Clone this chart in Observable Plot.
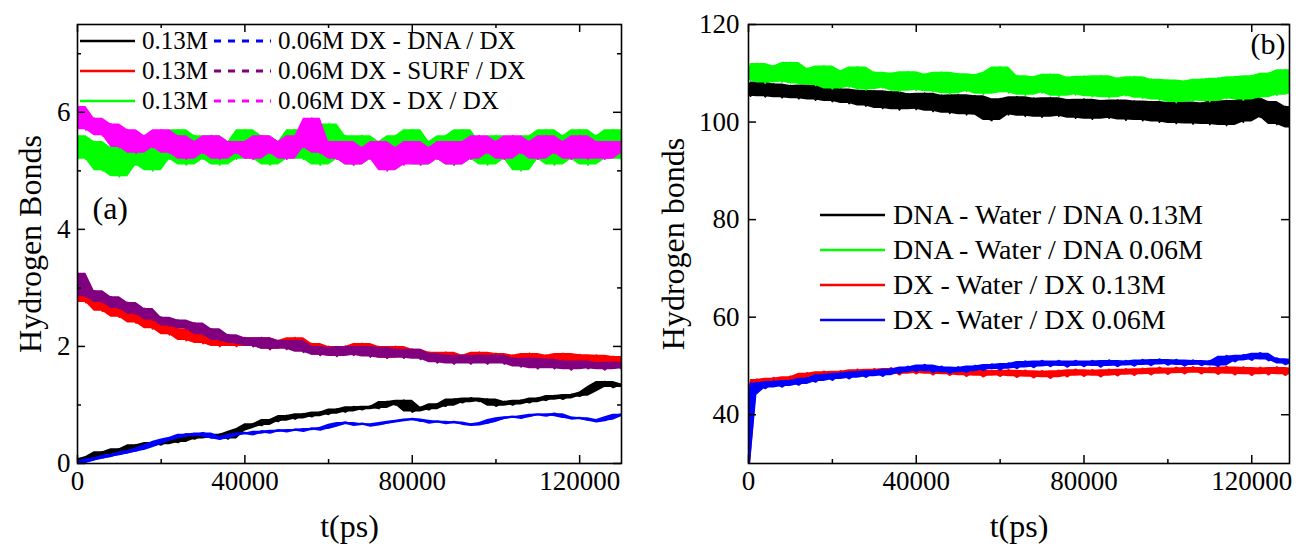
<!DOCTYPE html>
<html><head><meta charset="utf-8">
<script src="https://cdn.jsdelivr.net/npm/d3@7"></script>
<script src="https://cdn.jsdelivr.net/npm/@observablehq/plot@0.6"></script>
<style>
body{margin:0;background:#fff;}
#wrap{position:relative;width:1296px;height:548px;font-family:'Liberation Serif','Times New Roman',Times,'DejaVu Serif',serif;overflow:hidden}
#wrap > svg{position:absolute;top:0;}
#wrap text{font-family:'Liberation Serif','Times New Roman',Times,'DejaVu Serif',serif;}
.leg{position:absolute;white-space:nowrap;color:#000;display:flex;align-items:center}
.leg svg{display:block}
</style></head><body><div id="wrap"></div>
<script>
// ---------- DATA ----------
// time in thousands of ps (panel a)
const tA = [0,2,4,6,8,10,12,14,16,18,20,22,24,26,28,30,32,34,36,38,40,42,44,46,48,50,52,54,56,58,60,62,64,66,68,70,72,74,76,78,80,82,84,86,88,90,92,94,96,98,100,102,104,106,108,110,112,114,116,118,120,122,124,126,128,130];
// panel (a) series
const dxDna013 = [0.0,0.08,0.12,0.2,0.17,0.25,0.22,0.32,0.28,0.36, 0.32,0.4,0.36,0.45,0.42,0.5,0.44,0.5,0.42,0.55, 0.6,0.68,0.65,0.75,0.72,0.82,0.76,0.85,0.8,0.88, 0.84,0.93,0.88,0.97,0.92,0.98,0.94,1.06,1.0,1.08, 0.88,0.96,0.92,1.02,0.98,1.1,1.04,1.12,1.06,1.1, 0.98,1.06,1.0,1.08,1.04,1.12,1.08,1.16,1.1,1.18, 1.15,1.22,1.32,1.4,1.3,1.36];
const dxDna006 = [0.0,0.04,0.08,0.1,0.14,0.16,0.2,0.22,0.27,0.32, 0.38,0.42,0.45,0.5,0.48,0.52,0.45,0.42,0.46,0.5, 0.52,0.5,0.55,0.53,0.57,0.55,0.58,0.56,0.6,0.58, 0.62,0.67,0.7,0.66,0.68,0.65,0.67,0.7,0.72,0.74, 0.76,0.74,0.7,0.72,0.69,0.71,0.68,0.66,0.67,0.7, 0.75,0.78,0.8,0.78,0.82,0.84,0.82,0.85,0.8,0.77, 0.78,0.75,0.72,0.74,0.8,0.84];
const dxSurf013 = [3.0,2.75,2.8,2.6,2.7,2.5,2.6,2.4,2.5,2.3, 2.4,2.2,2.3,2.1,2.25,2.05,2.2,2.0,2.15,2.0, 2.15,2.0,2.15,1.95,2.1,2.0,2.15,1.95,2.05,1.85, 2.0,1.85,2.0,1.85,2.05,1.85,2.0,1.8,2.0,1.85, 1.95,1.8,1.9,1.75,1.9,1.75,1.85,1.72,1.9,1.75, 1.88,1.72,1.85,1.75,1.88,1.72,1.85,1.72,1.88,1.7, 1.86,1.72,1.85,1.7,1.83,1.72];
const dxSurf006 = [3.25,2.85,2.95,2.75,2.85,2.65,2.75,2.55,2.65,2.45, 2.5,2.35,2.45,2.3,2.4,2.2,2.3,2.1,2.2,2.05, 2.15,2.0,2.15,1.95,2.1,1.95,2.1,1.9,2.0,1.85, 1.98,1.83,2.0,1.85,2.0,1.82,1.98,1.8,1.95,1.8, 1.95,1.78,1.88,1.72,1.85,1.7,1.85,1.7,1.85,1.7, 1.85,1.7,1.8,1.65,1.8,1.62,1.78,1.62,1.75,1.6, 1.75,1.62,1.72,1.6,1.73,1.62];
const dxDx013 = [5.6,5.2,5.5,5.0,5.4,4.9,5.5,5.1,5.6,5.0, 5.5,5.2,5.7,5.1,5.6,5.2,5.6,5.1,5.5,5.2, 5.7,5.2,5.6,5.1,5.5,5.2,5.7,5.2,5.6,5.1, 5.8,5.2,5.6,5.1,5.6,5.2,5.5,5.1,5.6,5.2, 5.7,5.1,5.5,5.2,5.6,5.1,5.7,5.2,5.5,5.1, 5.6,5.2,5.5,5.0,5.6,5.2,5.7,5.1,5.6,5.2, 5.7,5.1,5.6,5.2,5.7,5.2];
const dxDx006 = [6.1,5.7,5.9,5.6,5.8,5.4,5.7,5.3,5.6,5.4, 5.7,5.3,5.6,5.2,5.5,5.3,5.6,5.2,5.5,5.3, 5.5,5.2,5.6,5.3,5.5,5.2,5.6,5.4,5.9,5.3, 5.5,5.2,5.5,5.1,5.4,5.2,5.5,5.0,5.4,5.1, 5.5,5.1,5.4,5.2,5.5,5.1,5.5,5.2,5.6,5.3, 5.5,5.2,5.6,5.3,5.5,5.2,5.6,5.3,5.5,5.2, 5.6,5.2,5.5,5.2,5.5,5.3];

// time in thousands of ps (panel b)
const tB = [0,0.5,2,4,6,8,10,12,14,16,18,20,22,24,26,28,30,32,34,36,38,40,42,44,46,48,50,52,54,56,58,60,62,64,66,68,70,72,74,76,78,80,82,84,86,88,90,92,94,96,98,100,102,104,106,108,110,112,114,116,118,120,122,124,126,128,130];
const dnaW013 = [107.5,105.3,108.2,105.2,107.8,105,107.5,104.8,107.6,104.5,107.2, 104.2,106.8,103.8,106.5,103.3,106.4,102.8,106.2,102.5,105.8, 102.6,105.9,102.2,105.5,101.8,105.6,101.5,105.4,101.4,100.3, 104.8,101.5,105.2,101.2,104.9,101,105,101.2,104.6,100.8, 104.7,100.6,104.4,100.8,104.5,100.4,104.3,100.3,104.2,100, 104,99.7,104.1,99.6,103.9,99.5,104.3,99.3,104.4,100, 105,101,104.2,99.5,103.2,98.8];
const dnaW006 = [110.5,108.5,112,108,111.5,108.2,112.2,107.8,111,107.5,111.5, 106.8,110.5,107.2,111.3,106.6,110.2,107,110,106.3,110.3, 106.5,109.8,106.2,110.2,105.8,109.9,106.3,109.7,105.7,110.2, 111.3,106,109.5,105.5,109.3,106,109.8,105.3,109.2,105.6, 109.4,105.2,109.5,105,109,105.4,109.3,104.9,108.8,104.5, 108.6,104,108.4,104.3,108.8,104.2,109,104.8,109.3,104.5, 109.5,105,110,105.5,110.7,106];
const dxW013 = [30,45, 47.2,46.2,47.5,46.5,47.8,47,48.5,47.4,48.8, 47.6,48.9,47.8,49.2,48,49.3,48.2,49.5,48.3,49.6, 48.5,49.8,48.3,49.5,48.2,49.4,48,49.2,47.9,49, 48,49.1,47.8,49,47.7,48.9,47.6,49,47.9,49.2, 48,49.1,47.9,49.2,48.1,49.3,48.2,49.4,48.3,49.6, 48.4,49.6,48.5,49.7,48.5,49.6,48.4,49.8,48.3,49.7, 48.2,49.6,48.3,49.7,48.2,49.5];
const dxW006 = [30,44, 46.5,45.5,46.8,45.8,47,46.2,47.5,46.8,48.2, 47.2,48.5,47.5,48.8,47.8,49,48,49.3,48.6,49.8, 49,50.2,48.8,49.8,48.6,49.7,48.8,50,49.2,50.3, 49.3,50.5,49.6,50.9,49.8,51,50,51,49.9,51, 50,51,49.9,51.1,50,51,50.1,51.2,50.2,51.3, 50.3,51.2,50.1,51.1,50.2,51,50,52,51,52.2, 51.3,52.6,51.2,51.5,50.4,51.2];

// tick values
const xMajor = [0, 40000, 80000, 120000];
const xMinor = [20000, 60000, 100000];
const yMajorA = [0, 2, 4, 6];
const yMinorA = [1, 3, 5, 7];
const yMajorB = [40, 60, 80, 100, 120];

// legend labels
const legA = [
  {c1: "#000000", c2: "#0000ff", l1: "0.13M", l2: "0.06M DX - DNA / DX"},
  {c1: "#ff0000", c2: "#800080", l1: "0.13M", l2: "0.06M DX - SURF / DX"},
  {c1: "#00ff00", c2: "#ff00ff", l1: "0.13M", l2: "0.06M DX - DX / DX"}
];
const legB = [
  {c: "#000000", l: "DNA - Water / DNA 0.13M"},
  {c: "#00ff00", l: "DNA - Water / DNA 0.06M"},
  {c: "#ff0000", l: "DX - Water / DX 0.13M"},
  {c: "#0000ff", l: "DX - Water / DX 0.06M"}
];

// ---------- DRAW ----------
const serif = "'Liberation Serif', 'Times New Roman', Times, 'DejaVu Serif', serif";
const rows = (t, v) => t.map((d, i) => ({t: d * 1000, v: v[i]}));
const wrap = document.getElementById("wrap");

function seriesMarks(s) {
  const data = rows(s.t, s.v);
  return [
    Plot.areaY(data, Plot.map(
      {y1: Plot.window({k: 3, reduce: "min"}), y2: Plot.window({k: 3, reduce: "max"})},
      {x: "t", y1: "v", y2: "v", fill: s.c, clip: true}
    )),
    Plot.line(data, {x: "t", y: "v", stroke: s.c, strokeWidth: s.w || 1.8, clip: true})
  ];
}

function panel({width, height, ml, mr, mt, mb, xDomain, yDomain, series, yMajor, yMinor, ylab, tag, tagDx, tagDy, tagSize, ylabDx, tickPad}) {
  const iw = width - ml - mr, ih = height - mt - mb;
  const marks = series.flatMap(seriesMarks);
  marks.push(
    Plot.frame({stroke: "#000", strokeWidth: 1.6}),
    Plot.ruleX(xMajor, {insetTop: ih - 8, stroke: "#000", strokeWidth: 1.5}),
    Plot.ruleX(xMajor, {insetBottom: ih - 8, stroke: "#000", strokeWidth: 1.5}),
    Plot.ruleX(xMinor, {insetTop: ih - 4, stroke: "#000", strokeWidth: 1.5}),
    Plot.ruleX(xMinor, {insetBottom: ih - 4, stroke: "#000", strokeWidth: 1.5}),
    Plot.ruleY(yMajor, {insetRight: iw - 8, stroke: "#000", strokeWidth: 1.5}),
    Plot.ruleY(yMajor, {insetLeft: iw - 8, stroke: "#000", strokeWidth: 1.5}),
    Plot.ruleY(yMinor, {insetRight: iw - 4, stroke: "#000", strokeWidth: 1.5}),
    Plot.ruleY(yMinor, {insetLeft: iw - 4, stroke: "#000", strokeWidth: 1.5}),
    Plot.axisX(xMajor, {tickSize: 0, tickPadding: 7, tickFormat: d => String(d), label: null, fontSize: 27}),
    Plot.axisY(yMajor, {tickSize: 0, tickPadding: tickPad, tickFormat: d => String(d), label: null, fontSize: 27}),
    Plot.text([ylab], {text: d => d, frameAnchor: "left", textAnchor: "middle", dx: ylabDx, dy: 0, rotate: -90, fontSize: 32, fill: "#000"}),
    Plot.text(["t(ps)"], {text: d => d, frameAnchor: "bottom", textAnchor: "middle", dy: 73, fontSize: 32, fill: "#000"}),
    Plot.text([tag], {text: d => d, frameAnchor: "top-left", dx: tagDx, dy: tagDy, fontSize: tagSize, fill: "#000"})
  );
  return Plot.plot({
    width, height, marginLeft: ml, marginRight: mr, marginTop: mt, marginBottom: mb,
    style: {fontFamily: serif, fontSize: "27px", background: "transparent", color: "#000", overflow: "visible"},
    x: {domain: xDomain},
    y: {domain: yDomain},
    marks
  });
}

const pa = panel({
  width: 640, height: 548, ml: 77, mr: 19, mt: 24, mb: 85,
  xDomain: [0, 130000], yDomain: [0, 7.5],
  series: [
    {t: tA, v: dxDna013, c: "#000000"},
    {t: tA, v: dxDna006, c: "#0000ff", w: 2.4},
    {t: tA, v: dxSurf013, c: "#ff0000"},
    {t: tA, v: dxSurf006, c: "#800080"},
    {t: tA, v: dxDx013, c: "#00ff00"},
    {t: tA, v: dxDx006, c: "#ff00ff"}
  ],
  yMajor: yMajorA, yMinor: yMinorA, ylab: "Hydrogen Bonds", tag: "(a)", tagDx: 15, tagDy: 172, tagSize: 32, ylabDx: -47, tickPad: 7
});
pa.style.left = "0px";
wrap.appendChild(pa);

const pb = panel({
  width: 648, height: 548, ml: 100, mr: 7, mt: 24, mb: 85,
  xDomain: [0, 129000], yDomain: [30, 120],
  series: [
    {t: tB, v: dnaW013, c: "#000000"},
    {t: tB, v: dnaW006, c: "#00ff00"},
    {t: tB, v: dxW013, c: "#ff0000", w: 2.6},
    {t: tB, v: dxW006, c: "#0000ff", w: 2.6}
  ],
  yMajor: yMajorB, yMinor: [], ylab: "Hydrogen bonds", tag: "(b)", tagDx: 502, tagDy: 8, tagSize: 30, ylabDx: -75, tickPad: 9
});
pb.style.left = "648px";
wrap.appendChild(pb);

// legends (HTML overlay)
function sample(color, dashed, w) {
  const ns = "http://www.w3.org/2000/svg";
  const s = document.createElementNS(ns, "svg");
  s.setAttribute("width", w); s.setAttribute("height", 8);
  const l = document.createElementNS(ns, "line");
  l.setAttribute("x1", 0); l.setAttribute("x2", w); l.setAttribute("y1", 4); l.setAttribute("y2", 4);
  l.setAttribute("stroke", color); l.setAttribute("stroke-width", dashed ? 3 : 2.4);
  if (dashed) l.setAttribute("stroke-dasharray", "7,7");
  s.appendChild(l);
  return s;
}
legA.forEach((r, i) => {
  const d = document.createElement("div");
  d.className = "leg";
  d.style.cssText += `left:80px;top:${41 + i * 30 - 15}px;height:30px;font-size:25px;`;
  const s1 = sample(r.c1, false, 55); s1.style.marginRight = "7px";
  const t1 = document.createElement("span"); t1.textContent = r.l1; t1.style.marginRight = "6px";
  const s2 = sample(r.c2, true, 57); s2.style.marginRight = "7px";
  const t2 = document.createElement("span"); t2.textContent = r.l2;
  d.append(s1, t1, s2, t2);
  wrap.appendChild(d);
});
legB.forEach((r, i) => {
  const d = document.createElement("div");
  d.className = "leg";
  d.style.cssText += `left:820px;top:${215 + i * 35 - 17}px;height:34px;font-size:28px;`;
  const s1 = sample(r.c, false, 65); s1.style.marginRight = "8px";
  const t1 = document.createElement("span"); t1.textContent = r.l;
  d.append(s1, t1);
  wrap.appendChild(d);
});
</script></body></html>
